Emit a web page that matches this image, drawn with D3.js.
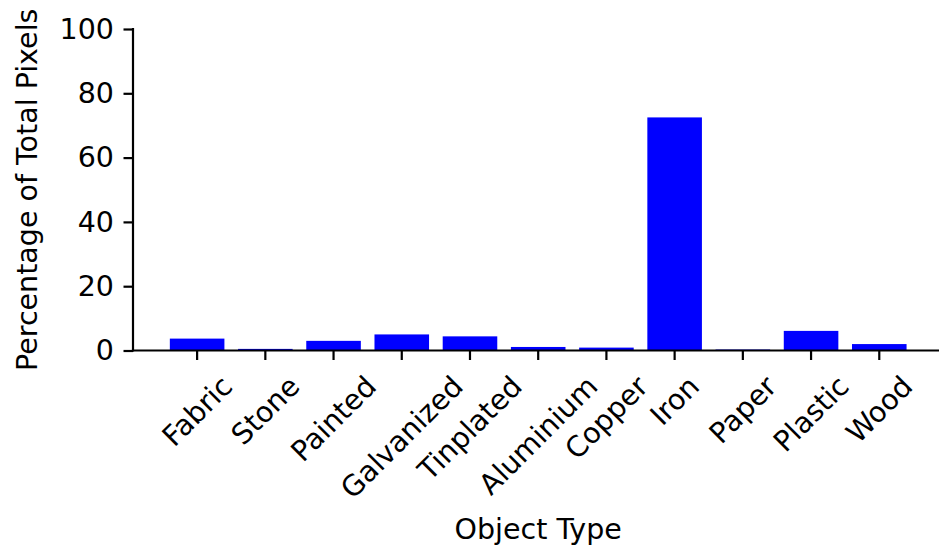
<!DOCTYPE html>
<html>
<head>
<meta charset="utf-8">
<script src="https://cdn.jsdelivr.net/npm/d3@7"></script>
<style>
  html, body { margin: 0; padding: 0; background: #fff; }
  svg { display: block; }
  text { font-family: "DejaVu Sans", sans-serif; fill: #000; }
</style>
</head>
<body>
<svg id="chart" width="939" height="549"></svg>
<script>
const categories = ["Fabric", "Stone", "Painted", "Galvanized", "Tinplated", "Aluminium", "Copper", "Iron", "Paper", "Plastic", "Wood"];
const values = [3.7, 0.5, 3.0, 5.0, 4.4, 1.1, 0.9, 72.5, 0.3, 6.1, 2.0];
const yTicks = [0, 20, 40, 60, 80, 100];
const xTitle = "Object Type";
const yTitle = "Percentage of Total Pixels";

(function () {
const fontSize = 28.5;
const mLeft = 133, mRight = 943.4, mTop = 29, mBottom = 350.5;
const tickLen = 9.5, tickPad = 9.5, lw = 2.2;

const svg = d3.select("#chart");

const n = categories.length;
const x = d3.scaleLinear().domain([-0.94, n - 1 + 0.94]).range([mLeft, mRight]);
const y = d3.scaleLinear().domain([0, 100]).range([mBottom, mTop]);
const barW = 0.8;

// bars
svg.append("g").selectAll("rect").data(values).join("rect")
  .attr("x", (d, i) => x(i - barW / 2))
  .attr("width", (d, i) => x(i + barW / 2) - x(i - barW / 2))
  .attr("y", d => y(d))
  .attr("height", d => y(0) - y(d))
  .attr("fill", "#0000ff");

// y axis
const yAxis = d3.axisLeft(y).tickValues(yTicks).tickSize(tickLen).tickPadding(tickPad).tickFormat(d3.format("d"));
const gy = svg.append("g").attr("transform", `translate(${mLeft},0)`).call(yAxis);
gy.select(".domain").remove();
gy.selectAll(".tick line").attr("stroke", "#000").attr("stroke-width", lw);
gy.selectAll(".tick text").attr("font-size", fontSize).attr("font-family", "DejaVu Sans").attr("fill", "#000");
svg.append("line").attr("x1", mLeft).attr("x2", mLeft).attr("y1", mTop).attr("y2", mBottom)
  .attr("stroke", "#000").attr("stroke-width", lw).attr("stroke-linecap", "square");

// x axis
const gx = svg.append("g");
gx.selectAll("line.tick").data(categories).join("line")
  .attr("class", "tick")
  .attr("x1", (d, i) => x(i)).attr("x2", (d, i) => x(i))
  .attr("y1", mBottom).attr("y2", mBottom + tickLen)
  .attr("stroke", "#000").attr("stroke-width", lw);
svg.append("line").attr("x1", mLeft).attr("x2", mRight).attr("y1", mBottom).attr("y2", mBottom)
  .attr("stroke", "#000").attr("stroke-width", lw).attr("stroke-linecap", "square");

const labelTop = mBottom + tickLen + tickPad;
const hText = 1.164 * fontSize;
gx.selectAll("text.lbl").data(categories).join("text")
  .attr("class", "lbl")
  .attr("font-size", fontSize)
  .attr("text-anchor", "middle")
  .attr("dy", "0.346em")
  .text(d => d)
  .each(function(d, i) {
    const w = this.getComputedTextLength();
    const side = (w + hText) * Math.SQRT1_2;
    d3.select(this).attr("transform", `translate(${x(i)},${labelTop + side / 2}) rotate(-45)`);
  });

// titles
svg.append("text").attr("x", (mLeft + mRight) / 2).attr("y", 539)
  .attr("text-anchor", "middle").attr("font-size", fontSize).text(xTitle);
svg.append("text").attr("transform", `translate(36.5,${(mTop + mBottom) / 2}) rotate(-90)`)
  .attr("text-anchor", "middle").attr("font-size", fontSize).text(yTitle);
})();
</script>
</body>
</html>
